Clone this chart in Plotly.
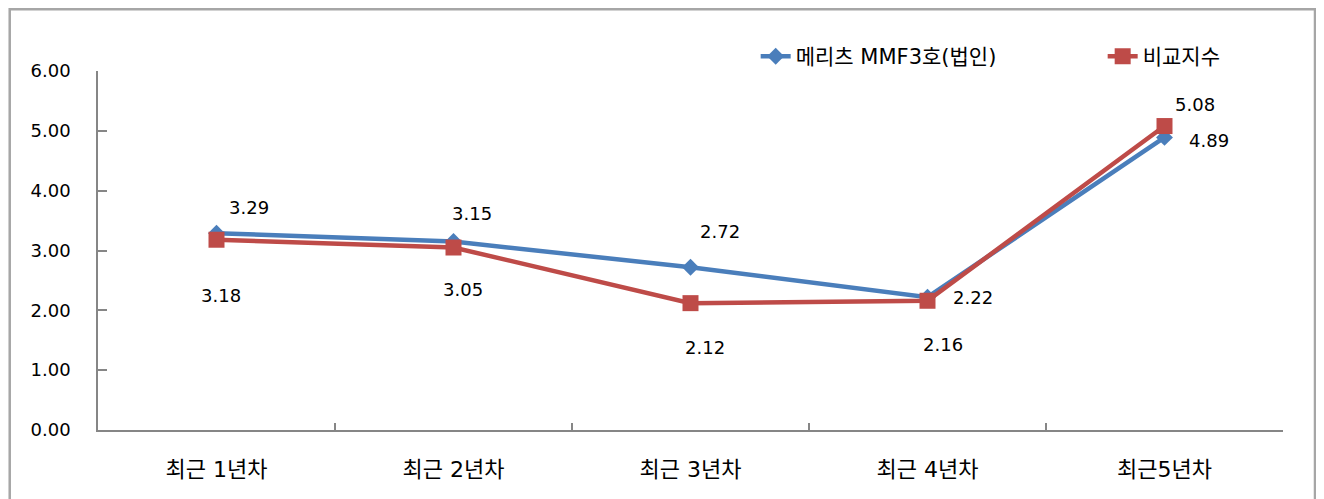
import plotly.graph_objects as go

categories = ["최근 1년차", "최근 2년차", "최근 3년차", "최근 4년차", "최근5년차"]
fund_name = "메리츠 MMF3호(법인)"
fund_values = [3.29, 3.15, 2.72, 2.22, 4.89]
bench_name = "비교지수"
bench_values = [3.18, 3.05, 2.12, 2.16, 5.08]
y_ticks = [0, 1, 2, 3, 4, 5, 6]

# label offsets (px) per point: (xshift, yshift)
fund_label_shift = [(32, 26), (18, 28), (29, 36), (45, 0), (44, -3)]
bench_label_shift = [(4, -56), (9, -42), (14, -44), (15, -44), (30, 22)]

BLUE = "#4A7EBB"
RED = "#BE4B48"
FONT = "DejaVu Sans, Noto Sans CJK KR"

fig = go.Figure()
fig.add_trace(go.Scatter(
    x=categories, y=fund_values, name=fund_name, mode="lines+markers",
    line=dict(color=BLUE, width=4.5),
    marker=dict(symbol="diamond", size=13, color=BLUE),
))
fig.add_trace(go.Scatter(
    x=categories, y=bench_values, name=bench_name, mode="lines+markers",
    line=dict(color=RED, width=4.5),
    marker=dict(symbol="square", size=16, color=RED),
))

for c, v, (dx, dy) in zip(categories, fund_values, fund_label_shift):
    fig.add_annotation(x=c, y=v, text=f"{v:.2f}", showarrow=False,
                       xshift=dx, yshift=dy, font=dict(size=18, color="#000000", family=FONT))
for c, v, (dx, dy) in zip(categories, bench_values, bench_label_shift):
    fig.add_annotation(x=c, y=v, text=f"{v:.2f}", showarrow=False,
                       xshift=dx, yshift=dy, font=dict(size=18, color="#000000", family=FONT))

# outer chart frame
fig.add_shape(type="rect", xref="paper", yref="paper",
              x0=-0.0745, x1=1.027, y0=-0.3, y1=1.172,
              line=dict(color="#A6A6A6", width=2.5), fillcolor="rgba(0,0,0,0)", layer="below")

fig.update_layout(
    width=1324, height=499,
    margin=dict(l=90, r=49, t=63, b=77, autoexpand=False),
    paper_bgcolor="white", plot_bgcolor="white",
    font=dict(family=FONT, size=18, color="#000000"),
    showlegend=True,
    legend=dict(orientation="h", x=0.555, y=1.04, xanchor="left", yanchor="middle",
                font=dict(size=21, family=FONT), entrywidth=302, bgcolor="rgba(0,0,0,0)"),
)
fig.update_xaxes(
    type="category", range=[-0.5, 4.5], showgrid=False,
    showline=True, linecolor="#868686", linewidth=1.5,
    ticks="inside", tickson="boundaries", ticklen=7, tickcolor="#868686", tickwidth=1.5,
    ticklabelstandoff=19, tickfont=dict(size=22, family=FONT),
)
fig.update_yaxes(
    range=[0, 6], tickvals=y_ticks, tickformat=".2f", showgrid=False,
    showline=True, linecolor="#868686", linewidth=1.5,
    ticks="inside", ticklen=9, tickcolor="#868686", tickwidth=1.5,
    ticklabelstandoff=22, tickfont=dict(size=18, family=FONT), zeroline=False,
)

fig.write_html("out.html")
